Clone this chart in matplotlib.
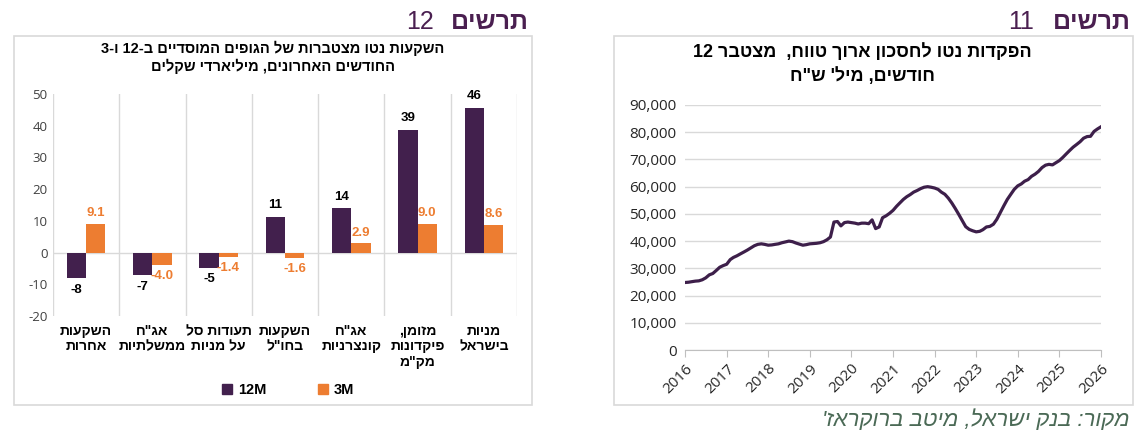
import re
import numpy as np
import pandas as pd
import matplotlib
matplotlib.use("Agg")
from matplotlib import pyplot as plt
from matplotlib.patches import Rectangle, Patch

# --- data: chart 12 (bars) ---
categories = [
    ["השקעות", "אחרות"],
    ["אג\"ח", "ממשלתיות"],
    ["תעודות סל", "על מניות"],
    ["השקעות", "בחו\"ל"],
    ["אג\"ח", "קונצרניות"],
    ["מזומן,", "פיקדונות", "מק\"מ"],
    ["מניות", "בישראל"],
]
vals_12m = [-8.1, -7.1, -4.8, 11.2, 13.9, 38.7, 45.7]
vals_3m = [9.1, -4.0, -1.4, -1.6, 2.9, 9.0, 8.6]

# --- data: chart 11 (line), monthly, Jan 2016 - Jan 2026 ---
deposits = [
    24800, 24900, 25100, 25300, 25400, 25800, 26500, 27600, 28100, 29200, 30400, 31000,
    31500, 33200, 34000, 34600, 35300, 36000, 36700, 37500, 38300, 38800, 39000, 38800,
    38500, 38600, 38800, 39000, 39400, 39700, 40000, 39800, 39300, 38900, 38500, 38700,
    39000, 39100, 39200, 39400, 39800, 40500, 41500, 47000, 47200, 45600, 46800, 47000,
    46800, 46600, 46300, 46600, 46600, 46400, 47800, 44600, 45200, 48600, 49300, 50200,
    51300, 52800, 54000, 55300, 56300, 57100, 58000, 58600, 59300, 59800, 60000, 59800,
    59500, 59000, 58000, 57200, 55800, 54000, 52000, 49800, 47500, 45300, 44300, 43800,
    43400, 43600, 44200, 45200, 45400, 46200, 48000, 50500, 53000, 55300, 57200, 59000,
    60300, 61000, 62000, 62600, 63800, 64600, 65600, 67000, 67900, 68200, 68000, 68800,
    69600, 70800, 72000, 73300, 74500, 75500, 76500, 77800, 78400, 78500, 80300, 81200,
    82000,
]
years = list(range(2016, 2027))
y_ticks_line = [0, 10000, 20000, 30000, 40000, 50000, 60000, 70000, 80000, 90000]
y_ticks_bar = [-20, -10, 0, 10, 20, 30, 40, 50]

PURPLE = "#42204d"
ORANGE = "#ed7d31"
HEAD = "#4a1f50"
GRID = "#d9d9d9"
HEB = "Liberation Sans"
NUM = "Open Sans"

W, H = 1146, 446


def heb(s):
    # visual order for right-to-left text, numbers/latin kept left-to-right
    v = s[::-1]
    return re.sub(r"[0-9A-Za-z]+", lambda m: m.group(0)[::-1], v)


def fx(px):
    return px / W


def fy(py):
    return 1 - py / H


fig = plt.figure(figsize=(W / 100, H / 100), dpi=100)
fig.patch.set_facecolor("white")

# panel frames
for x0, x1 in [(14, 532), (614, 1133)]:
    fig.add_artist(Rectangle((fx(x0), fy(405)), fx(x1 - x0), (405 - 36) / H,
                             transform=fig.transFigure, fill=False,
                             ec=GRID, lw=1.2))

# headers
for right, num_right, num in [(529, 434, "12"), (1131, 1034, "11")]:
    fig.text(fx(right), fy(29), heb("תרשים"), ha="right", va="baseline",
             fontsize=18, fontweight="bold", color=HEAD, family=HEB)
    fig.text(fx(num_right), fy(29), num, ha="right", va="baseline",
             fontsize=18, color=HEAD, family=HEB)

# ---------------- bar chart ----------------
ax = fig.add_axes([fx(53), fy(316), fx(517 - 53), (316 - 94) / H])
x = np.arange(len(categories))
bw = 0.29
ax.bar(x - bw / 2, vals_12m, bw, color=PURPLE, zorder=3, label="12M")
ax.bar(x + bw / 2, vals_3m, bw, color=ORANGE, zorder=3, label="3M")
ax.set_xlim(-0.5, len(categories) - 0.5)
ax.set_ylim(-20, 50)
ax.set_yticks(y_ticks_bar)
ax.set_yticklabels([str(t) for t in y_ticks_bar], family=NUM, fontsize=9.5,
                   color="#404040")
for s in ax.spines.values():
    s.set_visible(False)
for b in np.arange(-0.5, len(categories), 1.0):
    ax.axvline(b, color=GRID, lw=1, zorder=1)
ax.axhline(0, color=GRID, lw=1, zorder=1)
ax.tick_params(axis="y", length=0, pad=4)
ax.set_xticks(x)
ax.set_xticklabels(["\n".join(heb(l) for l in c) for c in categories],
                   family=HEB, fontsize=10, fontweight="bold", linespacing=1.1)
ax.tick_params(axis="x", length=0, pad=6)

for i, v in enumerate(vals_12m):
    off = 4 if v >= 0 else -4
    ax.annotate(f"{v:.0f}", (i - bw / 2, v), xytext=(0, off),
                textcoords="offset points", ha="center",
                va="bottom" if v >= 0 else "top",
                fontsize=9.5, fontweight="bold", family=HEB, color="black")
for i, v in enumerate(vals_3m):
    off = 3.5 if v >= 0 else -3.5
    ax.annotate(f"{v:.1f}", (i + bw / 2, v), xytext=(0, off),
                textcoords="offset points", ha="center",
                va="bottom" if v >= 0 else "top",
                fontsize=9.5, fontweight="bold", family=HEB, color=ORANGE)

fig.text(fx(273), fy(48), heb("השקעות נטו מצטברות של הגופים המוסדיים ב-12 ו-3"),
         ha="center", va="center", fontsize=10.5, fontweight="bold", family=HEB)
fig.text(fx(273), fy(66), heb("החודשים האחרונים, מיליארדי שקלים"),
         ha="center", va="center", fontsize=10.5, fontweight="bold", family=HEB)

handles = [Patch(color=PURPLE, label="12M"), Patch(color=ORANGE, label="3M")]
fig.legend(handles=handles, loc="center", bbox_to_anchor=(fx(288), fy(390)),
           ncol=2, frameon=False, handlelength=0.7, handleheight=0.7,
           handletextpad=0.4, columnspacing=3.5,
           prop={"family": HEB, "weight": "bold", "size": 10.5})

# ---------------- line chart ----------------
ax2 = fig.add_axes([fx(685), fy(350), fx(1101 - 685), (350 - 105) / H])
dates = pd.date_range("2016-01-01", periods=len(deposits), freq="MS")
ax2.plot(dates, deposits, color="#3d1f4a", lw=2.3, zorder=3)
ax2.set_xlim(pd.Timestamp("2016-01-01"), pd.Timestamp("2026-01-01"))
ax2.set_ylim(0, 90000)
ax2.set_yticks(y_ticks_line)
ax2.set_yticklabels([f"{t:,}" for t in y_ticks_line], family=NUM, fontsize=11,
                    color="#262626")
ax2.grid(axis="y", color=GRID, lw=1, zorder=1)
for k in ["top", "right", "left"]:
    ax2.spines[k].set_visible(False)
ax2.spines["bottom"].set_color("#bfbfbf")
ax2.tick_params(axis="y", length=0, pad=6)
ax2.set_xticks([pd.Timestamp(f"{y}-01-01") for y in years])
ax2.set_xticklabels([str(y) for y in years], rotation=45, ha="right",
                    rotation_mode="anchor", family=NUM, fontsize=11,
                    color="#262626")
ax2.tick_params(axis="x", length=5, color="#bfbfbf", pad=3)

fig.text(fx(862), fy(52), heb("הפקדות נטו לחסכון ארוך טווח,  מצטבר 12"),
         ha="center", va="center", fontsize=13, fontweight="bold", family=HEB)
fig.text(fx(862), fy(76), heb("חודשים, מיל' ש\"ח"),
         ha="center", va="center", fontsize=13, fontweight="bold", family=HEB)

fig.text(fx(1129), fy(420), heb("מקור: בנק ישראל, מיטב ברוקראז'"),
         ha="right", va="center", fontsize=16, style="italic",
         color="#4b6a56", family=HEB)

fig.savefig("out.png", dpi=100, facecolor="white")
